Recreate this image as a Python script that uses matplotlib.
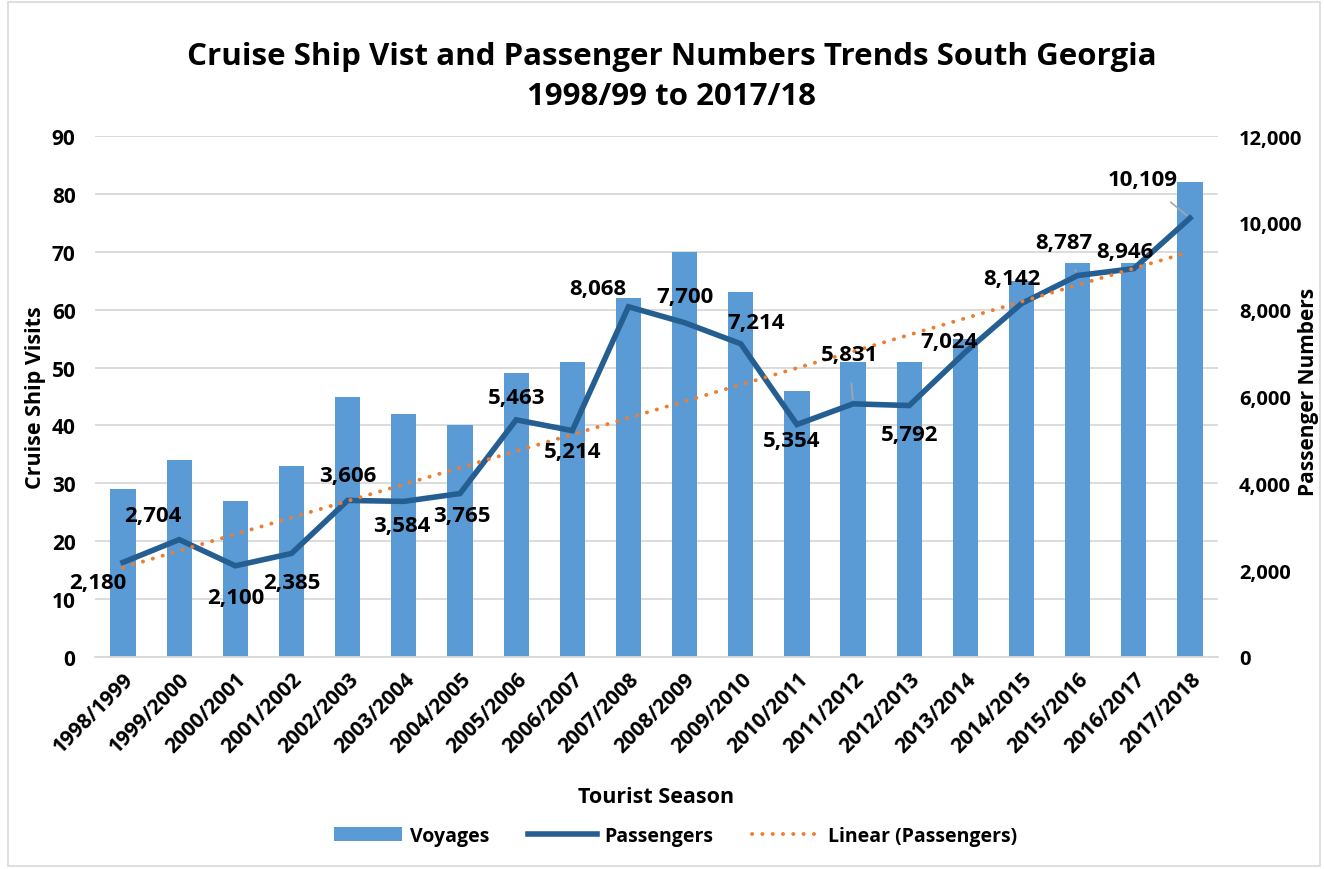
import matplotlib.pyplot as plt
import numpy as np

plt.rcParams['font.family'] = ['Open Sans', 'DejaVu Sans']
plt.rcParams['font.weight'] = 'bold'

# data
seasons = ['1998/1999', '1999/2000', '2000/2001', '2001/2002', '2002/2003',
           '2003/2004', '2004/2005', '2005/2006', '2006/2007', '2007/2008',
           '2008/2009', '2009/2010', '2010/2011', '2011/2012', '2012/2013',
           '2013/2014', '2014/2015', '2015/2016', '2016/2017', '2017/2018']
voyages = [29, 34, 27, 33, 45, 42, 40, 49, 51, 62, 70, 63, 46, 51, 51, 55, 65, 68, 68, 82]
passengers = [2180, 2704, 2100, 2385, 3606, 3584, 3765, 5463, 5214, 8068,
              7700, 7214, 5354, 5831, 5792, 7024, 8142, 8787, 8946, 10109]

# label offsets in pixels (dx, dy); leader lines for some
lbl_off = [(-25, -20), (-26, 24), (0, -32), (0, -29), (0, 25), (-2, -24), (2, -22),
           (0, 22), (0, -21), (-31, 18), (0, 26), (15, 21), (-5, -16), (-4, 49),
           (0, -29), (-16, 11), (-10, 25), (-14, 33), (-9, 17), (-47, 39)]
leaders = [13, 17, 19]

bar_col = '#5b9bd5'
line_col = '#255e91'
trend_col = '#ed7d31'
grid_col = '#d9d9d9'

fig = plt.figure(figsize=(13.25, 8.7), dpi=100)
ax = fig.add_axes([0.0717, 0.2437, 0.8476, 0.5988])
ax2 = ax.twinx()

x = np.arange(len(seasons))
ax.bar(x, voyages, width=0.45, color=bar_col, label='Voyages', zorder=2)
ax.set_ylim(0, 90)
ax.set_yticks(range(0, 91, 10))
ax.set_xlim(-0.5, len(seasons) - 0.5)
ax.yaxis.grid(True, color=grid_col, lw=1.3, zorder=0)
ax.set_axisbelow(True)

ln, = ax2.plot(x, passengers, color=line_col, lw=4, solid_joinstyle='miter',
               label='Passengers', zorder=3)
coef = np.polyfit(x, passengers, 1)
tr, = ax2.plot(x, np.polyval(coef, x), color=trend_col, lw=2.8, ls=(0, (0.05, 2.6)),
               dash_capstyle='round', label='Linear (Passengers)', zorder=4)
ax2.set_ylim(0, 12000)
ax2.set_yticks(range(0, 12001, 2000))
ax2.yaxis.set_major_formatter(plt.FuncFormatter(lambda v, p: f'{int(v):,}'))

for i, v in enumerate(passengers):
    dx, dy = lbl_off[i]
    if i in leaders:
        ax2.annotate(f'{v:,}', (x[i], v), xytext=(dx, dy), textcoords='offset pixels',
                     ha='center', va='center', fontsize=16, fontweight='bold', zorder=6,
                     arrowprops=dict(arrowstyle='-', color='#a6a6a6', lw=1.2,
                                     shrinkA=11, shrinkB=3))
    else:
        ax2.annotate(f'{v:,}', (x[i], v), xytext=(dx, dy), textcoords='offset pixels',
                     ha='center', va='center', fontsize=16, fontweight='bold', zorder=6)

for a in (ax, ax2):
    for s in a.spines.values():
        s.set_visible(False)
    a.tick_params(length=0, labelsize=15)
ax.tick_params(axis='y', pad=14)
ax2.tick_params(axis='y', pad=15, labelsize=14.5)
ax.spines['bottom'].set_visible(True)
ax.spines['bottom'].set_color(grid_col)
ax.spines['bottom'].set_linewidth(1.3)

ax.set_xticks(x)
ax.set_xticklabels(seasons, rotation=45, ha='right', rotation_mode='anchor', fontsize=15)
ax.tick_params(axis='x', pad=8)
ax.set_ylabel('Cruise Ship Visits', fontsize=15.5, fontweight='bold', labelpad=4)
ax.set_xlabel('Tourist Season', fontsize=15.5, fontweight='bold', labelpad=21)
# right axis title, kept inside the figure edge
fig.text(0.9875, 0.55, 'Passenger Numbers', rotation=90, ha='center', va='center',
         fontsize=15, fontweight='bold')

fig.suptitle('Cruise Ship Vist and Passenger Numbers Trends South Georgia\n1998/99 to 2017/18',
             x=0.507, y=0.952, fontsize=22.5, fontweight='bold', linespacing=1.45)

handles = [ax.patches[0], ln, tr]
fig.legend(handles, ['Voyages', 'Passengers', 'Linear (Passengers)'],
           loc='center', bbox_to_anchor=(0.51, 0.038), ncol=3, frameon=False,
           fontsize=14, handlelength=3.5, handletextpad=0.4, columnspacing=2.0)

# outer chart border
fig.patches.append(plt.Rectangle((0.006, 0.004), 0.99, 0.992, transform=fig.transFigure,
                                 fill=False, edgecolor=grid_col, lw=1.2))

fig.savefig('out.png', dpi=100)
